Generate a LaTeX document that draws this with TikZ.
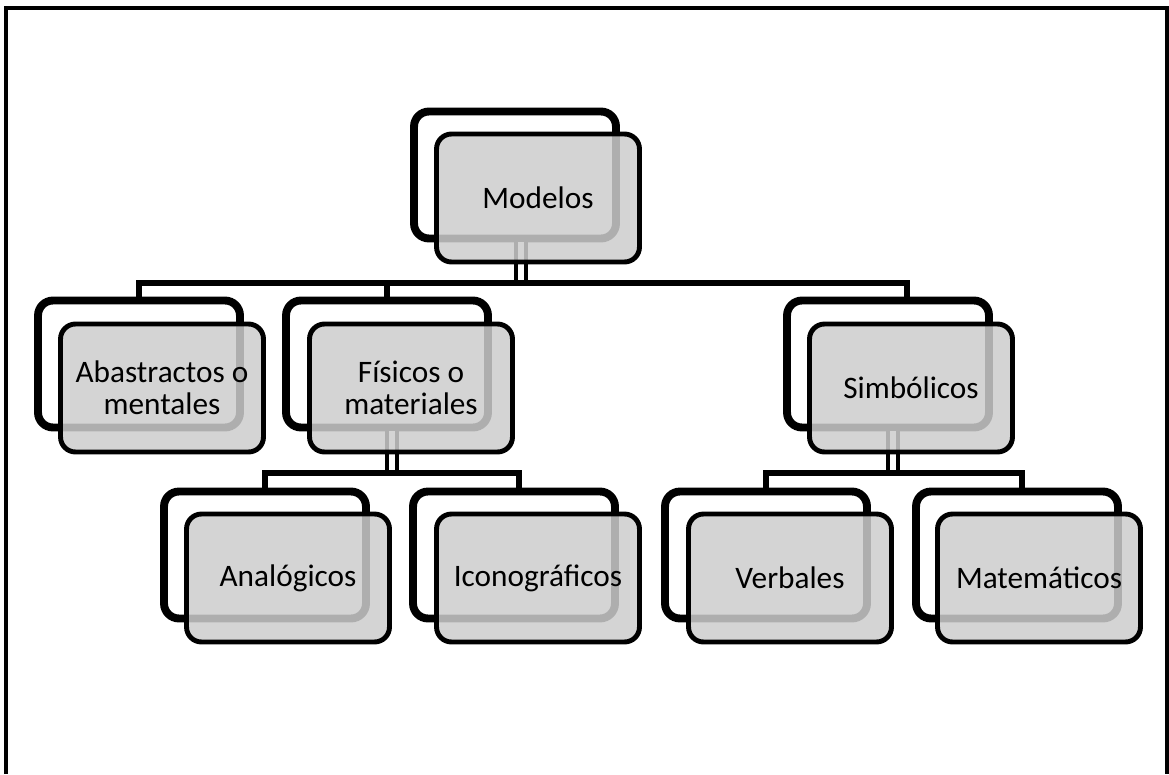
\documentclass[tikz,border=0pt]{standalone}
\usepackage{fontspec}
\setmainfont{Carlito}
\definecolor{boxgray}{RGB}{205,205,205}
\begin{document}
\begin{tikzpicture}[x=0.02cm, y=-0.02cm,
    backbox/.style={rectangle, draw, line width=4.5pt, rounded corners=0.3cm, fill=white, minimum width=4.04cm, minimum height=2.54cm},
    frontbox/.style={rectangle, draw, line width=2.8pt, rounded corners=0.3cm, fill=boxgray, fill opacity=0.85, text opacity=1, align=center, minimum width=4.06cm, minimum height=2.56cm, font=\fontsize{17.8}{18}\selectfont},
    stub/.style={line width=2.3pt, double=white, double distance=0.12cm},
    link/.style={line width=3pt}
]
\useasboundingbox (0,0) rectangle (1169,774);
\draw[line width=2.4pt] (6,774) -- (6,8) -- (1167,8) -- (1167,774);

% back boxes
\node[backbox] (modelos_b) at (515,175) {};
\node[backbox] (abs_b) at (139,364) {};
\node[backbox] (fis_b) at (387,364) {};
\node[backbox] (sim_b) at (888,364) {};
\node[backbox] (ana_b) at (265,555) {};
\node[backbox] (ico_b) at (514,555) {};
\node[backbox] (ver_b) at (766,555) {};
\node[backbox] (mat_b) at (1017,555) {};

% connectors
\coordinate (jm) at (521,283);
\coordinate (jf) at (392,473);
\coordinate (js) at (893,473);
\draw[stub] (jm |- modelos_b.south) -- (jm);
\draw[stub] (jf |- fis_b.south) -- (jf);
\draw[stub] (js |- sim_b.south) -- (js);
\draw[link] (abs_b.north) |- (jm) -| ([xshift=0.38cm]sim_b.north);
\draw[link] (fis_b.north) -- (fis_b.north |- jm);
\draw[link] (ana_b.north) |- (jf) -| ([xshift=0.1cm]ico_b.north);
\draw[link] (ver_b.north) |- (js) -| ([xshift=0.1cm]mat_b.north);

% front boxes
\node[frontbox] (modelos) at (538,198) {Modelos};
\node[frontbox] (abs) at (162,388) {Abastractos o\\mentales};
\node[frontbox] (fis) at (411,388) {Físicos o\\materiales};
\node[frontbox] (sim) at (911,388) {Simbólicos};
\node[frontbox] (ana) at (288,578) {Analógicos};
\node[frontbox] (ico) at (538,578) {Iconográficos};
\node[frontbox] (ver) at (790,578) {Verbales};
\node[frontbox] (mat) at (1039,578) {Matemáticos};
\end{tikzpicture}
\end{document}
